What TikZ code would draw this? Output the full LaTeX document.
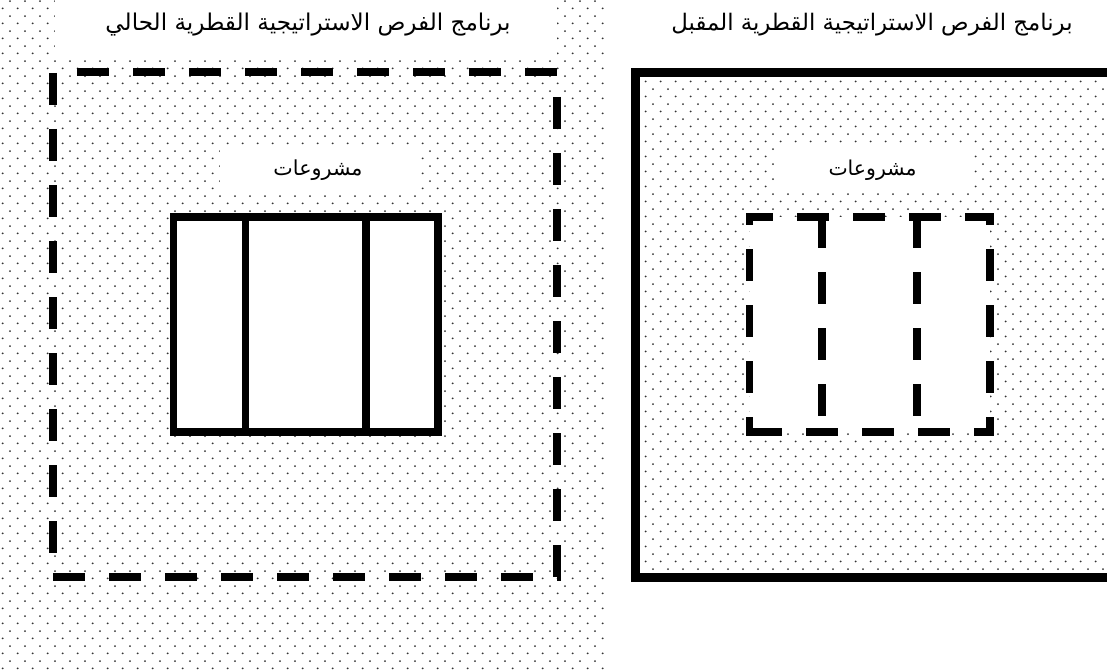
\documentclass[tikz,border=0pt]{standalone}
\usepackage{fontspec}
\newfontfamily\arabicfont[Script=Arabic]{DejaVu Sans}
\TeXXeTstate=1
\usetikzlibrary{patterns}
\pgfdeclarepatternformonly{stagdots}{\pgfqpoint{0pt}{0pt}}{\pgfqpoint{15.3pt}{15.2pt}}{\pgfqpoint{15.3pt}{15.2pt}}{%
  \pgfpathcircle{\pgfqpoint{3.8pt}{3.8pt}}{1.05pt}%
  \pgfpathcircle{\pgfqpoint{11.45pt}{11.4pt}}{1.05pt}%
  \pgfusepath{fill}}
\tikzset{
  dotbg/.style={pattern=stagdots, pattern color=black!80},
  bigdash/.style={line width=8pt, dash pattern=on 32pt off 24pt},
  smalldash/.style={line width=7.5pt, dash pattern=on 32pt off 24pt},
  solidbox/.style={line width=7.5pt},
  titletext/.style={inner sep=0pt, anchor=center},
  labelbox/.style={fill=white, inner sep=0pt, minimum width=196pt, minimum height=46pt}
}
\begin{document}
\begin{tikzpicture}[x=1pt,y=-1pt]
\useasboundingbox (0,0) rectangle (1107,671);
\clip (0,0) rectangle (1107,671);
% dotted backgrounds
\fill[dotbg] (0,0) rectangle (607,671);
\fill[dotbg] (635,73) rectangle (1120,577);
% left title
\fill[white] (55,0) rectangle (557,58);
\node[titletext] (tL) at (308,25) {\resizebox{405pt}{!}{\arabicfont\beginR برنامج الفرص الاستراتيجية القطرية الحالي\endR}};
\node[titletext] (tR) at (872,25) {\resizebox{401pt}{!}{\arabicfont\beginR برنامج الفرص الاستراتيجية القطرية المقبل\endR}};
% left big dashed frame
\draw[bigdash, dash phase=32pt] (53,72) -- (561,72);
\draw[bigdash, dash phase=51pt] (53,68) -- (53,553);
\draw[bigdash] (53,577) -- (561,577);
\draw[bigdash] (557,97) -- (557,581);
% left labels and inner box
\node[labelbox] (pL) at (318,170) {\resizebox{89pt}{!}{\arabicfont\beginR مشروعات\endR}};
\draw[solidbox, fill=white] (173.5,217) rectangle (438,432);
\draw[solidbox] (245.5,217) -- (245.5,432);
\draw[solidbox] (366,217) -- (366,432);
% right solid frame
\draw[line width=9pt] (1130,73) -- (635,73) -- (635,577) -- (1130,577);
% right label and inner dashed box
\node[labelbox] (pR) at (872.5,170) {\resizebox{88pt}{!}{\arabicfont\beginR مشروعات\endR}};
\fill[white] (749.5,217) rectangle (990,432);
\draw[smalldash, dash phase=5pt] (746,217) -- (994,217);
\draw[smalldash, dash phase=52pt] (746,432) -- (994,432);
\draw[smalldash, dash phase=20pt] (749.5,213) -- (749.5,436);
\draw[smalldash, dash phase=20pt] (990,213) -- (990,436);
\draw[smalldash] (822,216) -- (822,432);
\draw[smalldash] (917,216) -- (917,432);
\end{tikzpicture}
\end{document}
